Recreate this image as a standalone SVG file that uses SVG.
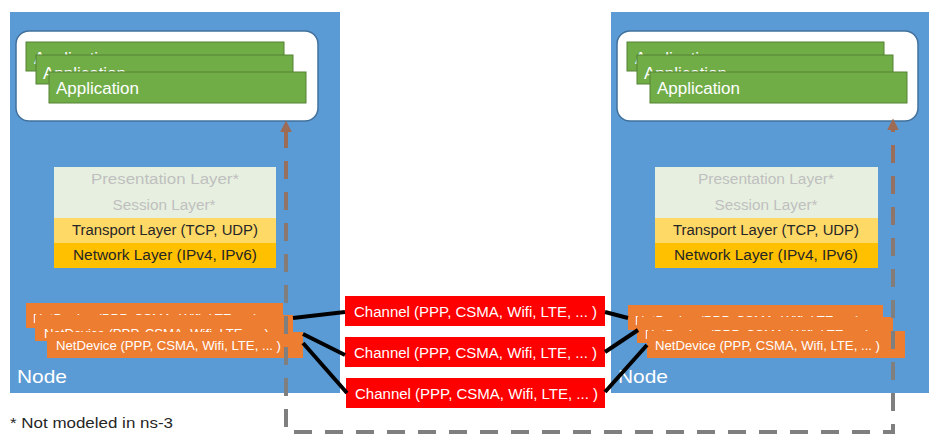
<svg xmlns="http://www.w3.org/2000/svg" width="931" height="434" viewBox="0 0 931 434">
<style>
.node{fill:#5B9BD5}
.appbox{fill:#ffffff;stroke:#41719C;stroke-width:1.5}
.app{fill:#70AD47;stroke:#548235;stroke-width:1}
.apptxt{font-family:"Liberation Sans",Arial,sans-serif;font-size:16px;fill:#ffffff}
.pres{fill:#E7F0E0}
.prestxt{font-family:"Liberation Sans",Arial,sans-serif;font-size:14px;fill:#BFBFBF}
.trans{fill:#FFD966}
.net{fill:#FFC000}
.laytxt{font-family:"Liberation Sans",Arial,sans-serif;font-size:14px;fill:#262626}
.nd{fill:#ED7D31}
.ndtxt{font-family:"Liberation Sans",Arial,sans-serif;font-size:12px;fill:#ffffff}
.nodetxt{font-family:"Liberation Sans",Arial,sans-serif;font-size:19px;fill:#ffffff}
.ch{fill:#FF0000}
.chtxt{font-family:"Liberation Sans",Arial,sans-serif;font-size:14px;fill:#ffffff}
.link{stroke:#000000;stroke-width:4;fill:none}
.path{stroke:url(#g);stroke-width:4;fill:none;stroke-dasharray:18 13}
.note{font-family:"Liberation Sans",Arial,sans-serif;font-size:14px;fill:#262626}
</style>
<defs>
<linearGradient id="g" gradientUnits="userSpaceOnUse" x1="0" y1="130" x2="0" y2="300">
<stop offset="0" stop-color="#9E6B55"/>
<stop offset="1" stop-color="#7F7F7F"/>
</linearGradient>
<marker id="arr" viewBox="0 0 10 10" refX="2" refY="5" markerWidth="3" markerHeight="3" orient="auto-start-reverse">
<path d="M0,0 L10,5 L0,10 z" fill="#9E6B55"/>
</marker>
</defs>

<g id="nodeA">
<rect class="node" x="10" y="12" width="330" height="381"/>
<rect class="appbox" x="16" y="31" width="302" height="90" rx="13"/>
<rect class="app" x="26" y="42" width="258" height="29"/>
<text class="apptxt" x="34" y="64" textLength="83" lengthAdjust="spacingAndGlyphs">Application</text>
<rect class="app" x="36" y="55" width="257" height="29"/>
<text class="apptxt" x="43" y="79" textLength="83" lengthAdjust="spacingAndGlyphs">Application</text>
<rect class="app" x="49" y="72" width="257" height="31"/>
<text class="apptxt" x="56" y="94" textLength="83" lengthAdjust="spacingAndGlyphs">Application</text>
<rect class="pres" x="54" y="167" width="222" height="51"/>
<text class="prestxt" x="165" y="184" text-anchor="middle" textLength="148" lengthAdjust="spacingAndGlyphs">Presentation Layer*</text>
<text class="prestxt" x="164" y="210" text-anchor="middle" textLength="103" lengthAdjust="spacingAndGlyphs">Session Layer*</text>
<rect class="trans" x="54" y="218" width="222" height="25"/>
<text class="laytxt" x="165" y="235" text-anchor="middle" textLength="186" lengthAdjust="spacingAndGlyphs">Transport Layer (TCP, UDP)</text>
<rect class="net" x="54" y="243" width="222" height="25"/>
<text class="laytxt" x="165" y="260" text-anchor="middle" textLength="184" lengthAdjust="spacingAndGlyphs">Network Layer (IPv4, IPv6)</text>
<rect class="nd" x="26" y="303" width="257" height="25"/>
<text class="ndtxt" x="33" y="323" textLength="225" lengthAdjust="spacingAndGlyphs">NetDevice (PPP, CSMA, Wifi, LTE, ... )</text>
<rect class="nd" x="35" y="315" width="258" height="26"/>
<text class="ndtxt" x="44" y="338" textLength="225" lengthAdjust="spacingAndGlyphs">NetDevice (PPP, CSMA, Wifi, LTE, ... )</text>
<rect class="nd" x="47" y="332" width="256" height="26"/>
<text class="ndtxt" x="56" y="350" textLength="225" lengthAdjust="spacingAndGlyphs">NetDevice (PPP, CSMA, Wifi, LTE, ... )</text>
<text class="nodetxt" x="17" y="383" textLength="50" lengthAdjust="spacingAndGlyphs">Node</text>
</g>

<g id="nodeB">
<rect class="node" x="611" y="12" width="318" height="381"/>
<rect class="appbox" x="617" y="31" width="301" height="90" rx="13"/>
<rect class="app" x="627" y="42" width="257" height="29"/>
<text class="apptxt" x="635" y="64" textLength="83" lengthAdjust="spacingAndGlyphs">Application</text>
<rect class="app" x="637" y="55" width="256" height="29"/>
<text class="apptxt" x="644" y="79" textLength="83" lengthAdjust="spacingAndGlyphs">Application</text>
<rect class="app" x="650" y="72" width="257" height="31"/>
<text class="apptxt" x="657" y="94" textLength="83" lengthAdjust="spacingAndGlyphs">Application</text>
<rect class="pres" x="655" y="167" width="223" height="51"/>
<text class="prestxt" x="766" y="184" text-anchor="middle" textLength="136" lengthAdjust="spacingAndGlyphs">Presentation Layer*</text>
<text class="prestxt" x="766" y="210" text-anchor="middle" textLength="103" lengthAdjust="spacingAndGlyphs">Session Layer*</text>
<rect class="trans" x="655" y="218" width="223" height="25"/>
<text class="laytxt" x="766" y="235" text-anchor="middle" textLength="186" lengthAdjust="spacingAndGlyphs">Transport Layer (TCP, UDP)</text>
<rect class="net" x="655" y="243" width="223" height="25"/>
<text class="laytxt" x="766" y="260" text-anchor="middle" textLength="184" lengthAdjust="spacingAndGlyphs">Network Layer (IPv4, IPv6)</text>
<rect class="nd" x="628" y="305" width="255" height="25"/>
<text class="ndtxt" x="635" y="325" textLength="225" lengthAdjust="spacingAndGlyphs">NetDevice (PPP, CSMA, Wifi, LTE, ... )</text>
<rect class="nd" x="637" y="317" width="256" height="26"/>
<text class="ndtxt" x="645" y="339" textLength="225" lengthAdjust="spacingAndGlyphs">NetDevice (PPP, CSMA, Wifi, LTE, ... )</text>
<rect class="nd" x="647" y="331" width="258" height="27"/>
<text class="ndtxt" x="655" y="350" textLength="225" lengthAdjust="spacingAndGlyphs">NetDevice (PPP, CSMA, Wifi, LTE, ... )</text>
<text class="nodetxt" x="618" y="383" textLength="50" lengthAdjust="spacingAndGlyphs">Node</text>
</g>

<g id="channel1">
<rect class="ch" x="345" y="296" width="260" height="30"/>
<text class="chtxt" x="354" y="317" textLength="243" lengthAdjust="spacingAndGlyphs">Channel (PPP, CSMA, Wifi, LTE, ... )</text>
</g>
<g id="channel2">
<rect class="ch" x="345" y="337" width="260" height="30"/>
<text class="chtxt" x="354" y="358" textLength="243" lengthAdjust="spacingAndGlyphs">Channel (PPP, CSMA, Wifi, LTE, ... )</text>
</g>
<g id="channel3">
<rect class="ch" x="346" y="378" width="259" height="30"/>
<text class="chtxt" x="355" y="399" textLength="243" lengthAdjust="spacingAndGlyphs">Channel (PPP, CSMA, Wifi, LTE, ... )</text>
</g>

<g id="connectors">
<path class="path" d="M286,130 V432 H893 V128" marker-start="url(#arr)" marker-end="url(#arr)"/>
<line class="link" x1="293" y1="318" x2="345" y2="312"/>
<line class="link" x1="303" y1="334" x2="345" y2="355"/>
<line class="link" x1="303" y1="343" x2="347" y2="393"/>
<line class="link" x1="605" y1="312" x2="628" y2="318"/>
<line class="link" x1="605" y1="352" x2="638" y2="330"/>
<line class="link" x1="605" y1="392" x2="647" y2="345"/>
</g>

<text class="note" x="10" y="428" textLength="163" lengthAdjust="spacingAndGlyphs">* Not modeled in ns-3</text>
</svg>
